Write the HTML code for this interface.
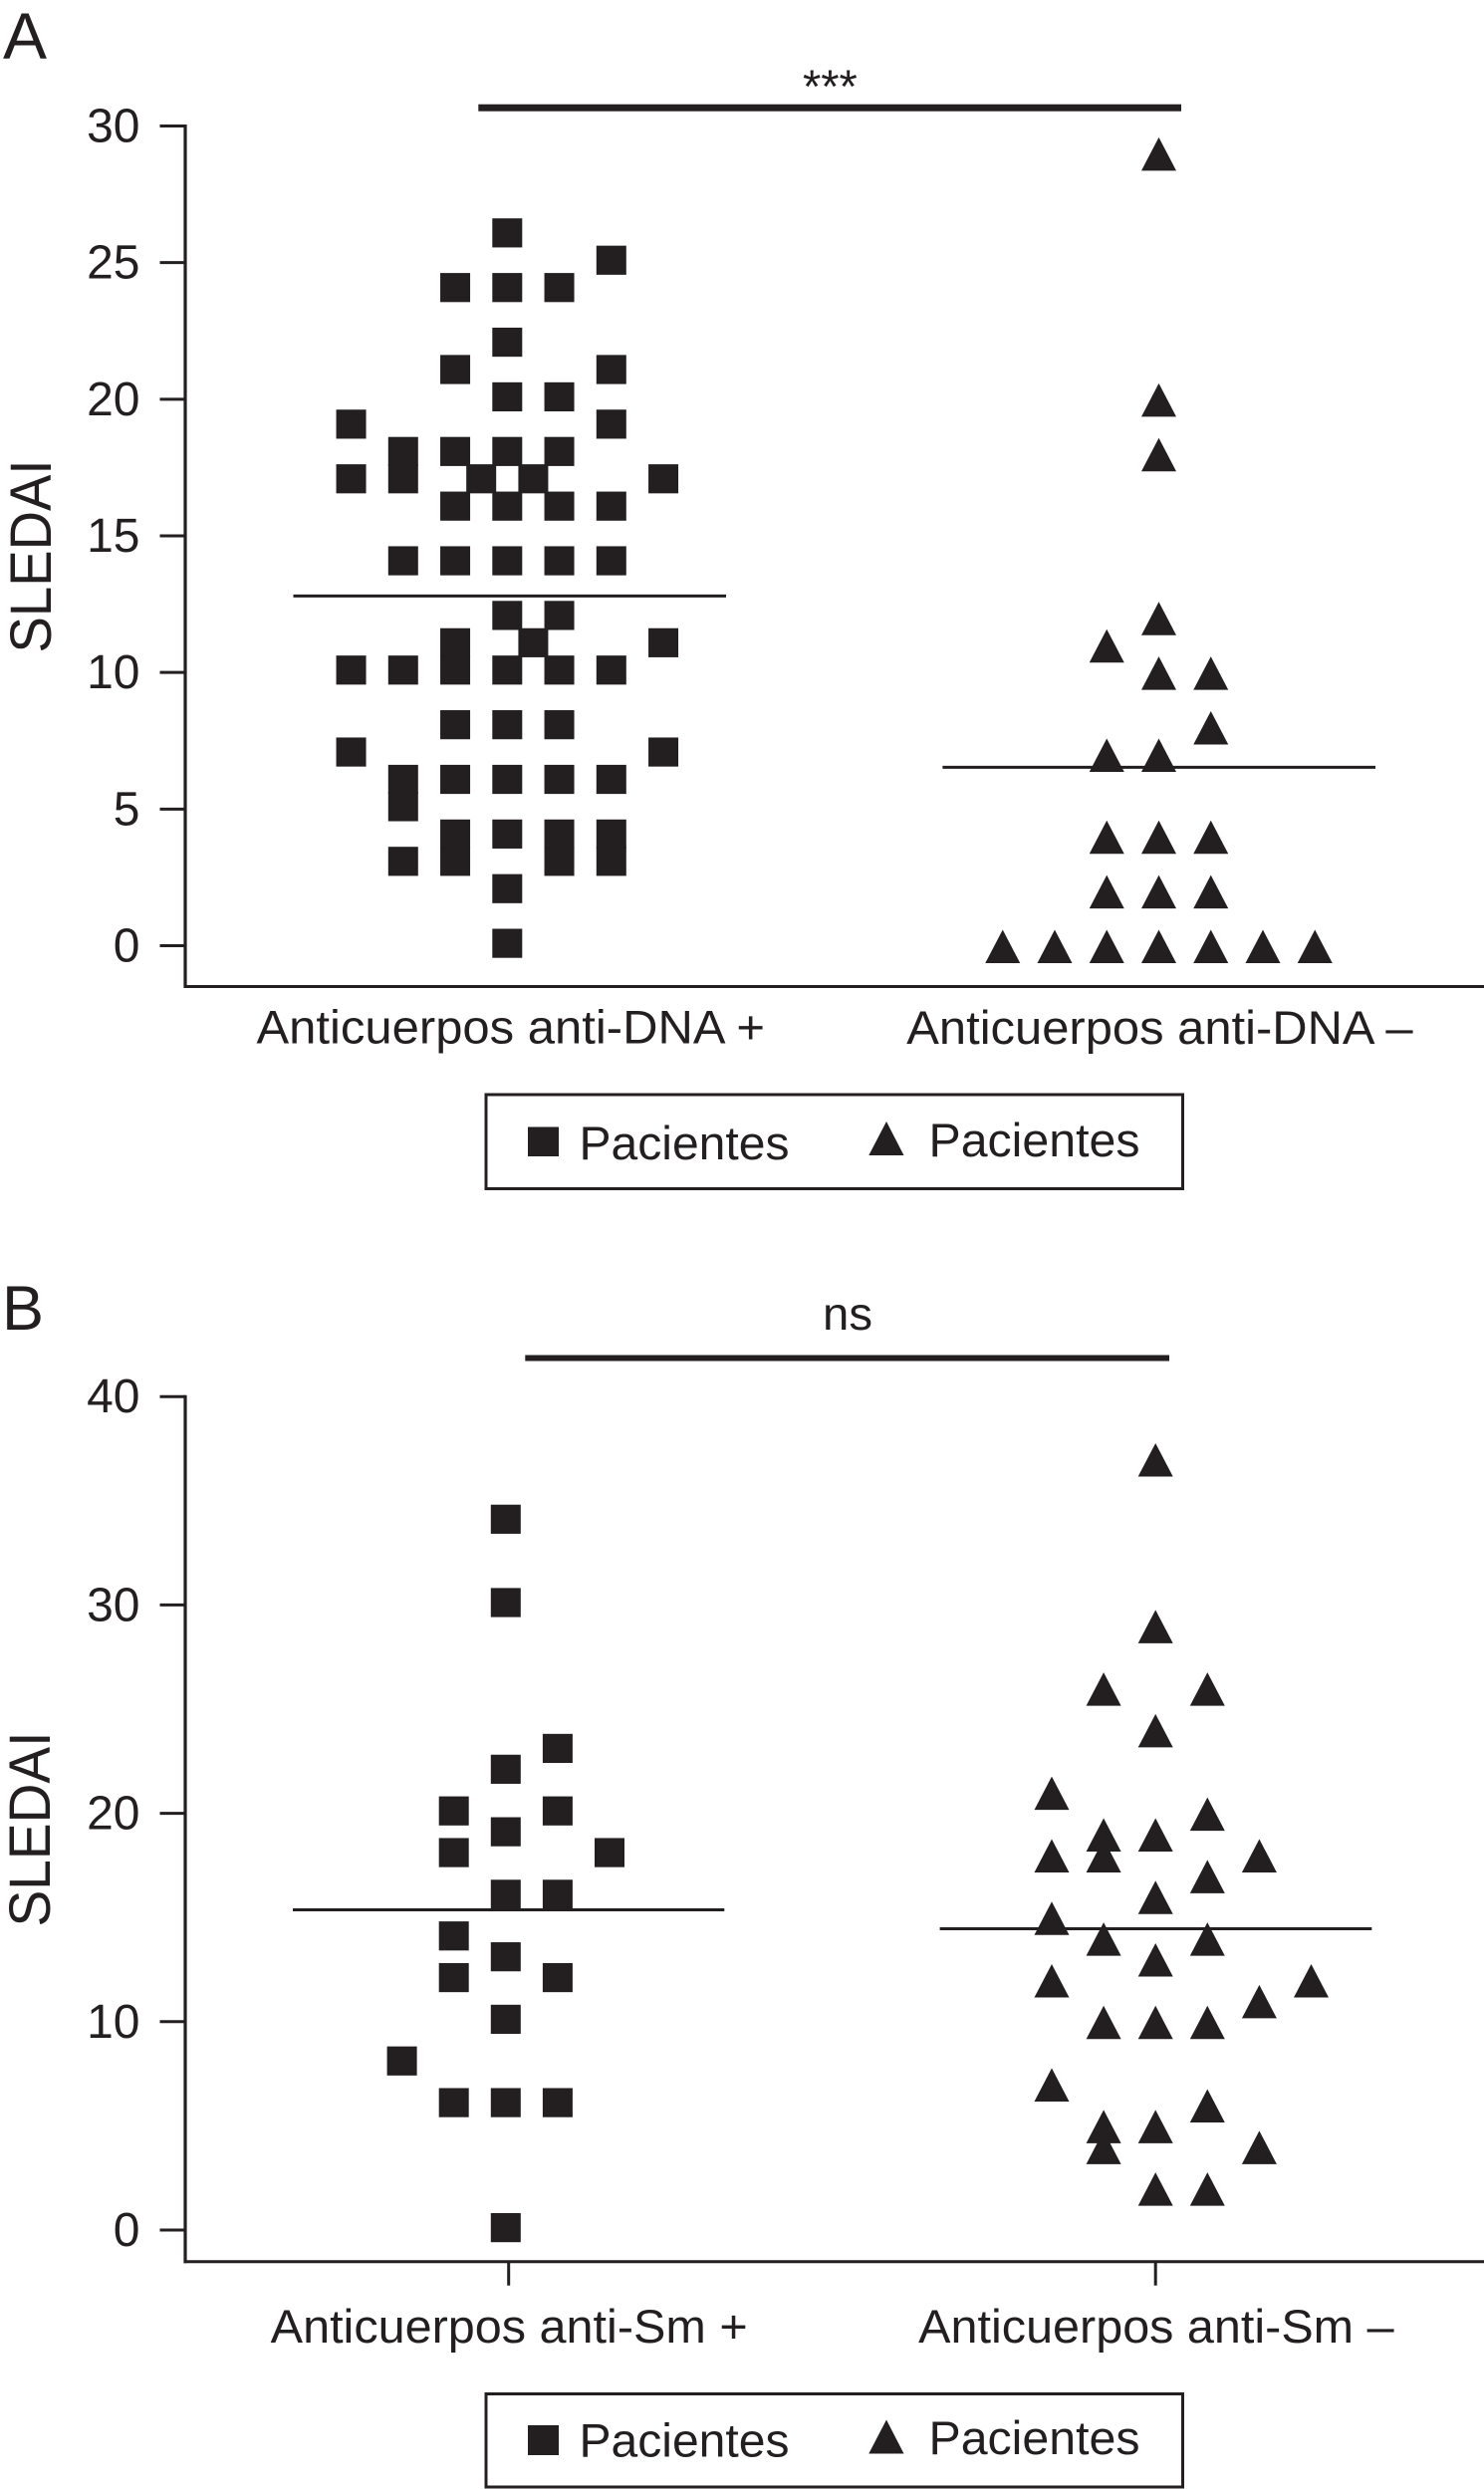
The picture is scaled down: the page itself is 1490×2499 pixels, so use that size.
<!DOCTYPE html>
<html lang="es">
<head>
<meta charset="utf-8">
<title>SLEDAI por anticuerpos anti-DNA y anti-Sm</title>
<style>
html,body{margin:0;padding:0;background:#fff;}
svg{display:block;}
text{font-family:"Liberation Sans",sans-serif;fill:#231f20;}
</style>
</head>
<body>
<svg id="figure" xmlns="http://www.w3.org/2000/svg" width="1490" height="2499" viewBox="0 0 1490 2499">
  <rect x="0" y="0" width="1490" height="2499" fill="#ffffff"/>

  <g id="panel-a">
    <text x="3" y="59" font-size="66">A</text>
    <text transform="translate(51 655.5) rotate(-90)" font-size="58" textLength="194" lengthAdjust="spacingAndGlyphs">SLEDAI</text>
    <rect x="480.3" y="104.7" width="705.7" height="7" fill="#231f20"/>
    <text x="833.4" y="103" font-size="47" text-anchor="middle">***</text>
    <g>
      <rect x="488" y="1099" width="699.5" height="94.5" fill="none" stroke="#231f20" stroke-width="3"/>
      <rect x="530" y="1131.5" width="31" height="29.5" fill="#231f20"/>
      <text x="581.5" y="1164" font-size="47" textLength="211" lengthAdjust="spacingAndGlyphs">Pacientes</text>
      <polygon points="872.3,1160 890,1126 907.5,1160" fill="#231f20"/>
      <text x="932.5" y="1161" font-size="47" textLength="212" lengthAdjust="spacingAndGlyphs">Pacientes</text>
    </g>
  </g>

  <g id="panel-b">
    <text x="2" y="1335" font-size="63">B</text>
    <text transform="translate(50 1934.5) rotate(-90)" font-size="58" textLength="196" lengthAdjust="spacingAndGlyphs">SLEDAI</text>
    <rect x="527.3" y="1360.5" width="646.7" height="6" fill="#231f20"/>
    <text x="826" y="1335" font-size="46" textLength="50" lengthAdjust="spacingAndGlyphs">ns</text>
    <g>
      <rect x="488" y="2403.5" width="699.5" height="93.5" fill="none" stroke="#231f20" stroke-width="3"/>
      <rect x="530" y="2435" width="31" height="30" fill="#231f20"/>
      <text x="581.5" y="2466.7" font-size="47" textLength="211" lengthAdjust="spacingAndGlyphs">Pacientes</text>
      <polygon points="872.3,2463.5 890,2429.5 907.5,2463.5" fill="#231f20"/>
      <text x="932.5" y="2464" font-size="47" textLength="212" lengthAdjust="spacingAndGlyphs">Pacientes</text>
    </g>
  </g>
</svg>

<script>
// Panel A data
const ticksA = [0, 5, 10, 15, 20, 25, 30];
const categoriesA = ["Anticuerpos anti-DNA +", "Anticuerpos anti-DNA \u2013"];
const meansA = [12.8, 6.53];
const squareValuesA = [26, 25, 24, 24, 24, 22, 21, 21, 20, 20, 19, 19, 18, 18, 18, 18, 17, 17, 17, 17, 17, 16, 16, 16, 16, 14, 14, 14, 14, 14, 12, 12, 11, 11, 11, 10, 10, 10, 10, 10, 10, 8, 8, 8, 7, 7, 6, 6, 6, 6, 6, 5, 4, 4, 4, 4, 3, 3, 3, 3, 2, 0];
const squareDodgeA = [0, 2, -1, 0, 1, 0, -1, 2, 0, 1, -3, 2, -2, -1, 0, 1, -3, -2, -0.5, 0.5, 3, -1, 0, 1, 2, -2, -1, 0, 1, 2, 0, 1, -1, 0.5, 3, -3, -2, -1, 0, 1, 2, -1, 0, 1, -3, 3, -2, -1, 0, 1, 2, -2, -1, 0, 1, 2, -2, -1, 1, 2, 0, 0];
const triangleValuesA = [29, 20, 18, 12, 11, 10, 10, 8, 7, 7, 4, 4, 4, 2, 2, 2, 0, 0, 0, 0, 0, 0, 0];
const triangleDodgeA = [0, 0, 0, 0, -1, 0, 1, 1, -1, 0, -1, 0, 1, -1, 0, 1, -3, -2, -1, 0, 1, 2, 3];

// Panel B data
const ticksB = [0, 10, 20, 30, 40];
const categoriesB = ["Anticuerpos anti-Sm +", "Anticuerpos anti-Sm \u2013"];
const meansB = [15.37, 14.46];
const squareValuesB = [34, 30, 23, 22, 20, 20, 19, 18, 18, 16, 16, 14, 13, 12, 12, 10, 8, 6, 6, 6, 0];
const squareDodgeB = [0, 0, 1, 0, -1, 1, 0, -1, 2, 0, 1, -1, 0, -1, 1, 0, -2, -1, 0, 1, 0];
const triangleValuesB = [37, 29, 26, 26, 24, 21, 20, 19, 19, 18, 18, 18, 17, 16, 15, 14, 14, 13, 12, 12, 11, 10, 10, 10, 7, 6, 5, 5, 4, 4, 2, 2];
const triangleDodgeB = [0, 0, -1, 1, 0, -2, 1, -1, 0, -2, -1, 2, 1, 0, -2, -1, 1, 0, -2, 3, 2, -1, 0, 1, -2, 1, -1, 0, -1, 2, 0, 1];

const INK = "#231f20";
const NS = "http://www.w3.org/2000/svg";

function shape(parent, tag, attrs) {
  const el = document.createElementNS(NS, tag);
  for (const key in attrs) {
    el.setAttribute(key, attrs[key]);
  }
  parent.appendChild(el);
  return el;
}

function linearScale(domain0, range0, domain1, range1) {
  return function (v) {
    return range0 + (v - domain0) * (range1 - range0) / (domain1 - domain0);
  };
}

function drawPanel(panelId, suffix, opts) {
  const root = document.getElementById(panelId);
  const y = opts.y;

  const yLine = shape(root, "line", { x1: opts.axisX, x2: opts.axisX, y1: y(opts.ticks[opts.ticks.length - 1]) - 1.5, y2: opts.baseY + 1.5, stroke: INK, "stroke-width": 3.2 });
  
  

  const xLine = shape(root, "line", { x1: opts.axisX - 1.5, x2: opts.axisEndX, y1: opts.baseY, y2: opts.baseY, stroke: INK, "stroke-width": 3 });
  
  

  opts.ticks.forEach(function (t) {
    const mark = shape(root, "line", { x1: opts.axisX - 25.5, x2: opts.axisX, y1: y(t), y2: y(t), stroke: INK, "stroke-width": 3 });
    
    
    const label = shape(root, "text", { x: 140.5, y: y(t) + 16, "font-size": 48, "text-anchor": "end" });
    label.textContent = String(t);
    
    
  });

  opts.categories.forEach(function (name, i) {
    const label = shape(root, "text", { x: opts.labelX[i], y: opts.labelY[i], "font-size": 47, textLength: opts.labelW[i], lengthAdjust: "spacingAndGlyphs" });
    label.textContent = name;
    
    
    if (opts.xTicks) {
      const tick = shape(root, "line", { x1: opts.xTicks[i], x2: opts.xTicks[i], y1: opts.baseY, y2: opts.baseY + 24, stroke: INK, "stroke-width": 3 });
      
      
    }
    const mean = shape(root, "line", { x1: opts.meanX[i][0], x2: opts.meanX[i][1], y1: y(opts.means[i]), y2: y(opts.means[i]), stroke: INK, "stroke-width": 3 });
    
    
  });

  opts.squareValues.forEach(function (v, i) {
    const cx = opts.centers[0] + opts.squareDodge[i] * opts.step;
    const cy = y(v) - 2.4;
    const sq = shape(root, "rect", { x: cx - 15, y: cy - 14.6, width: 30, height: 29.2, fill: INK });
    
    
  });

  opts.triangleValues.forEach(function (v, i) {
    const cx = opts.centers[1] + opts.triangleDodge[i] * opts.step;
    const cy = y(v);
    const pts = (cx - 17.5) + "," + (cy + 17.5) + " " + cx + "," + (cy - 16) + " " + (cx + 17.5) + "," + (cy + 17.5);
    const tri = shape(root, "polygon", { points: pts, fill: INK });
    
    
  });
}

drawPanel("panel-a", "a", {
  y: linearScale(0, 949.5, 30, 126.5),
  baseY: 990.5,
  axisX: 186,
  axisEndX: 1490,
  ticks: ticksA,
  categories: categoriesA,
  means: meansA,
  centers: [509.3, 1163.5],
  step: 52.25,
  squareValues: squareValuesA,
  squareDodge: squareDodgeA,
  triangleValues: triangleValuesA,
  triangleDodge: triangleDodgeA,
  labelX: [257.5, 910.3],
  labelY: [1047.5, 1048],
  labelW: [510.5, 508.3],
  meanX: [[294.5, 729], [946.4, 1381]]
});

drawPanel("panel-b", "b", {
  y: linearScale(0, 2239, 40, 1402.2),
  baseY: 2270.7,
  axisX: 186,
  axisEndX: 1490,
  ticks: ticksB,
  categories: categoriesB,
  means: meansB,
  centers: [507.8, 1160.2],
  step: 52.1,
  squareValues: squareValuesB,
  squareDodge: squareDodgeB,
  triangleValues: triangleValuesB,
  triangleDodge: triangleDodgeB,
  labelX: [271.7, 922.2],
  labelY: [2352, 2352],
  labelW: [479, 477.4],
  meanX: [[294, 727.3], [943.6, 1377.3]],
  xTicks: [510.7, 1160.2]
});
</script>
</body>
</html>
